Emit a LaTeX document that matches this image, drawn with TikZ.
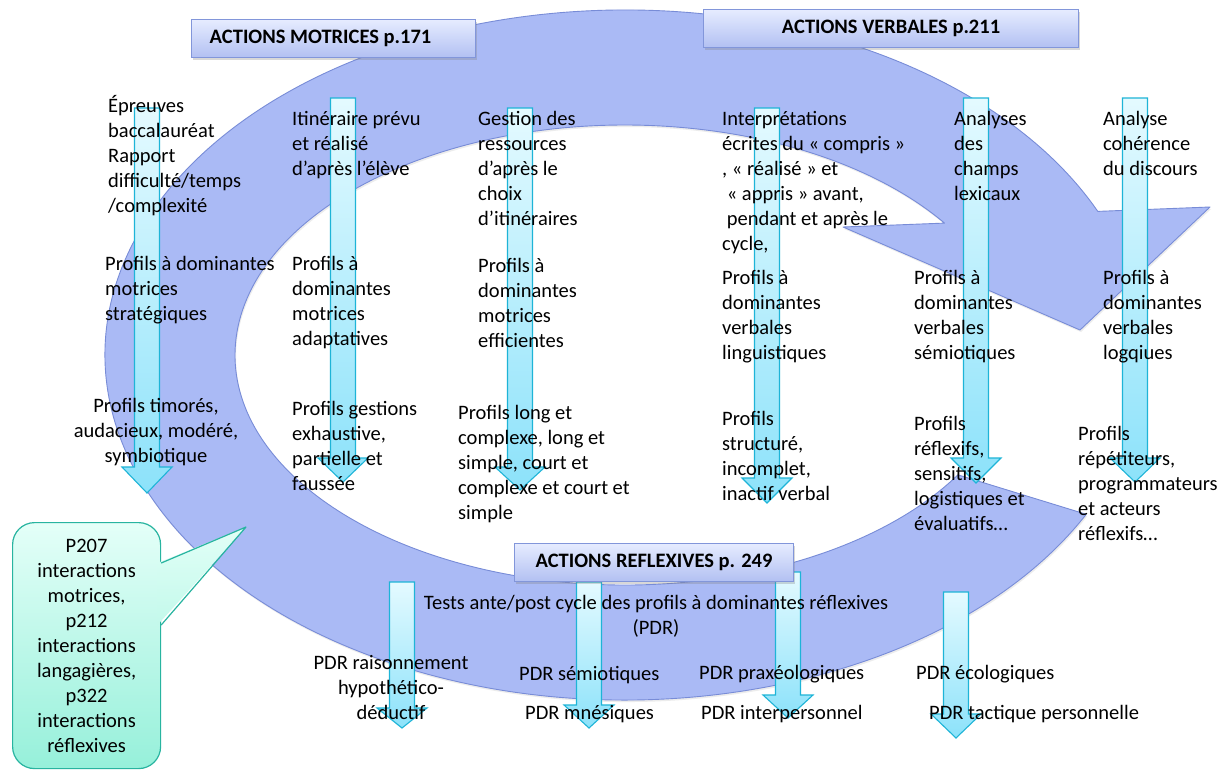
\documentclass[tikz,border=0pt]{standalone}
\usepackage{fontspec}
\setmainfont{Carlito}
\usetikzlibrary{shadows}
\definecolor{ringfill}{RGB}{170,186,245}
\definecolor{ringdraw}{RGB}{120,140,215}
\definecolor{arrtop}{RGB}{228,250,255}
\definecolor{arrbot}{RGB}{140,226,250}
\definecolor{arrdraw}{RGB}{30,180,215}
\definecolor{hdrtop}{RGB}{230,236,255}
\definecolor{hdrbot}{RGB}{178,192,242}
\definecolor{hdrdraw}{RGB}{130,150,218}
\definecolor{calltop}{RGB}{228,255,248}
\definecolor{callbot}{RGB}{150,240,218}
\definecolor{calldraw}{RGB}{40,180,160}
\definecolor{ptrtop}{RGB}{226,255,247}
\definecolor{ptrbot}{RGB}{195,249,235}
\newcommand{\VArr}[4]{%
  \path[varrow] (#1-12.5,#2) -- (#1+12.5,#2) -- (#1+12.5,#3) -- (#1+25,#3) -- (#1,#4) -- (#1-25,#3) -- (#1-12.5,#3) -- cycle;}
\begin{document}
\begin{tikzpicture}[x=1pt,y=-1pt,
  ring/.style={fill=ringfill,draw=ringdraw,line width=0.9pt,line join=round},
  varrow/.style={top color=arrtop,bottom color=arrbot,draw=arrdraw,line width=1.1pt},
  hdr/.style={draw=hdrdraw,line width=1pt,top color=hdrtop,bottom color=hdrbot,
    font=\fontsize{20.5}{25}\selectfont\bfseries,inner ysep=0pt,inner xsep=0pt,minimum height=38pt,
    drop shadow={shadow xshift=1pt,shadow yshift=-2pt,opacity=0.3}},
  txt/.style={font=\fontsize{20.5}{25}\selectfont,align=left,anchor=north west,inner sep=0pt},
  ctxt/.style={font=\fontsize{20.5}{25}\selectfont,align=center,anchor=north,inner sep=0pt},
  callbox/.style={top color=calltop,bottom color=callbot,draw=calldraw,line width=1.2pt,
    rounded corners=22pt,font=\fontsize{20.5}{25}\selectfont,align=center,inner sep=0pt}]
\useasboundingbox (0,0) rectangle (1224,771);
\fill[white] (0,0) rectangle (1224,771);

% big circular arrow
\path[ring,drop shadow={shadow xshift=1pt,shadow yshift=-2pt,opacity=0.15}]
  (625,355) ++(27.5:520 and 345)
  arc[start angle=27.5,end angle=335.4,x radius=520,y radius=345]
  -- (1210,207) -- (1080,330) -- (843,227) -- (944.5,223.1)
  arc[start angle=325,end angle=31.4,x radius=390,y radius=230]
  -- cycle;

% vertical arrows
\VArr{147}{108}{467}{493}
\VArr{343}{98}{458}{482}
\VArr{520}{108}{467}{490}
\VArr{767}{108}{478}{503}
\VArr{976}{98}{458}{483}
\VArr{1135}{98}{458}{482}
\VArr{402}{582}{708}{728}
\VArr{589}{582}{705}{728}
\VArr{788}{572}{695}{718}
\VArr{956}{592}{714}{738}

% header boxes
\node[hdr,anchor=north west,minimum width=284pt] (motr) at (191,19) {ACTIONS MOTRICES p.171\hspace*{26pt}};
\node[hdr,anchor=north west,minimum width=375pt] (verb) at (703,9) {ACTIONS VERBALES p.211};
\node[hdr,anchor=north west,minimum width=279pt] (refl) at (514,543) {ACTIONS REFLEXIVES p. 249};

% texts - motrices
\node[txt] (t1) at (108,94.5) {\strut Épreuves\\baccalauréat\\Rapport\\difficulté/temps\\/complexité};
\node[txt] (t2) at (105,252.5) {\strut Profils à dominantes\\motrices\\stratégiques};
\node[ctxt] (t3) at (156,394.5) {\strut Profils timorés,\\audacieux, modéré,\\symbiotique};
\node[txt] (t4) at (292,107.5) {\strut Itinéraire prévu\\et réalisé\\d’après l’élève};
\node[txt] (t5) at (292,252.5) {\strut Profils à\\dominantes\\motrices\\adaptatives};
\node[txt] (t6) at (292,397.5) {\strut Profils gestions\\exhaustive,\\partielle et\\faussée};
\node[txt] (t7) at (478,107.5) {\strut Gestion des\\ressources\\d’après le\\choix\\d’itinéraires};
\node[txt] (t8) at (478,254.5) {\strut Profils à\\dominantes\\motrices\\efficientes};
\node[txt] (t9) at (458,401.5) {\strut Profils long et\\complexe, long et\\simple, court et\\complexe et court et\\simple};
% texts - verbales
\node[txt] (t10) at (722,107.5) {\strut Interprétations\\écrites du « compris »\\, « réalisé » et\\\ « appris » avant,\\\ pendant et après le\\cycle,};
\node[txt] (t11) at (722,266.5) {\strut Profils à\\dominantes\\verbales\\linguistiques};
\node[txt] (t12) at (722,407.5) {\strut Profils\\structuré,\\incomplet,\\inactif verbal};
\node[txt] (t13) at (954,107.5) {\strut Analyses\\des\\champs\\lexicaux};
\node[txt] (t14) at (914,266.5) {\strut Profils à\\dominantes\\verbales\\sémiotiques};
\node[txt] (t15) at (914,412.5) {\strut Profils\\réflexifs,\\sensitifs,\\logistiques et\\évaluatifs…};
\node[txt] (t16) at (1103,107.5) {\strut Analyse\\cohérence\\du discours};
\node[txt] (t17) at (1103,266.5) {\strut Profils à\\dominantes\\verbales\\logqiues};
\node[txt] (t18) at (1078,422.5) {\strut Profils\\répétiteurs,\\programmateurs\\et acteurs\\réflexifs…};
% texts - reflexives
\node[ctxt] (t19) at (656,591.5) {\strut Tests ante/post cycle des profils à dominantes réflexives\\(PDR)};
\node[ctxt] (t20) at (391,651.5) {\strut PDR raisonnement\\hypothético-\\déductif};
\node[txt] (t21) at (519,662.5) {\strut PDR sémiotiques};
\node[txt] (t22) at (525,701.5) {\strut PDR mnésiques};
\node[txt] (t23) at (699,661.5) {\strut PDR praxéologiques};
\node[txt] (t24) at (701,701.5) {\strut PDR interpersonnel};
\node[txt] (t25) at (916,661.5) {\strut PDR écologiques};
\node[txt] (t26) at (929,701.5) {\strut PDR tactique personnelle};

% callout
\node[callbox,anchor=north west,minimum width=148pt,minimum height=246pt] (callout) at (12,522)
  {P207\\interactions\\motrices,\\p212\\interactions\\langagières,\\p322\\interactions\\réflexives};
\path[top color=ptrtop,bottom color=ptrbot] (157.5,563) -- (246,527) -- (157.5,625) -- cycle;
\draw[calldraw,line width=1.2pt,line join=round] (callout.east |- 0,563) -- (246,527) -- (callout.east |- 0,625);
\end{tikzpicture}
\end{document}
